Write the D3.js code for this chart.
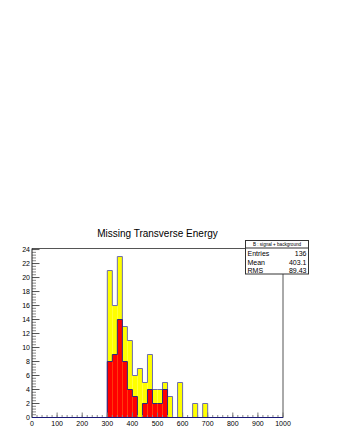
<!DOCTYPE html>
<html>
<head>
<meta charset="utf-8">
<script src="https://cdn.jsdelivr.net/npm/d3@7"></script>
<style>
  body { margin: 0; background: #fff; }
  svg { display: block; font-family: "Liberation Sans", Arial, sans-serif; }
</style>
</head>
<body>
<div id="chart"></div>
<script>
// Histogram: 50 bins of width 20 from 0 to 1000
const binWidth = 20;
const binLow = d3.range(0, 1000, binWidth);

// yellow = signal + background, red = inner component
const totalCounts = [
  0, 0, 0, 0, 0, 0, 0, 0, 0, 0,
  0, 0, 0, 0, 0, 21, 16, 23, 13, 11,
  6, 7, 5, 9, 4, 4, 5, 3, 0, 5,
  0, 0, 2, 0, 2, 0, 0, 0, 0, 0,
  0, 0, 0, 0, 0, 0, 0, 0, 0, 0
];
const redCounts = [
  0, 0, 0, 0, 0, 0, 0, 0, 0, 0,
  0, 0, 0, 0, 0, 8, 9, 14, 8, 4,
  3, 0, 2, 4, 2, 2, 4, 0, 0, 0,
  0, 0, 0, 0, 0, 0, 0, 0, 0, 0,
  0, 0, 0, 0, 0, 0, 0, 0, 0, 0
];

const xTicks = [0, 100, 200, 300, 400, 500, 600, 700, 800, 900, 1000];
const yTicks = [0, 2, 4, 6, 8, 10, 12, 14, 16, 18, 20, 22, 24];
const statLabels = ["Entries", "Mean", "RMS"];
const statValues = ["136", "403.1", "89.43"];

const width = 340, height = 440;
const frame = { left: 32, right: 283, top: 248.5, bottom: 417.5 };

const svg = d3.select("#chart").append("svg")
  .attr("width", width)
  .attr("height", height);

const x = d3.scaleLinear().domain([0, 1000]).range([frame.left, frame.right]);
const y = d3.scaleLinear().domain([0, 24.15]).range([frame.bottom, frame.top]);

// title
svg.append("text")
  .attr("x", 157.5).attr("y", 237)
  .attr("text-anchor", "middle")
  .attr("font-size", "10px")
  .attr("fill", "#000")
  .text("Missing Transverse Energy");

// frame (top and right)
svg.append("path")
  .attr("d", `M${frame.left},${frame.top}H${frame.right}V${frame.bottom}`)
  .attr("fill", "none")
  .attr("stroke", "#555")
  .attr("stroke-width", 1);

// step outline helper
function stepPath(counts) {
  const pts = binLow.map((b, i) => [b, counts[i]]);
  pts.push([1000, counts[counts.length - 1]]);
  return d3.line()
    .x(d => x(d[0]))
    .y(d => y(d[1]))
    .curve(d3.curveStepAfter)(pts);
}

function drawHist(counts, fill, stroke) {
  svg.append("g").selectAll("rect")
    .data(binLow.map((b, i) => ({ b, v: counts[i] })).filter(d => d.v > 0))
    .join("rect")
    .attr("x", d => x(d.b))
    .attr("y", d => y(d.v))
    .attr("width", d => x(d.b + binWidth) - x(d.b))
    .attr("height", d => y(0) - y(d.v))
    .attr("fill", fill);
  svg.append("path")
    .attr("d", stepPath(counts))
    .attr("fill", "none")
    .attr("stroke", stroke)
    .attr("stroke-width", 1);
}

drawHist(totalCounts, "#ffff00", "#6b6bb0");
drawHist(redCounts, "#ff0000", "#2a2a80");

// y axis
const yMinor = d3.range(0, 24.01, 0.4);
const gy = svg.append("g");
gy.selectAll("line.minor")
  .data(yMinor)
  .join("line")
  .attr("x1", frame.left).attr("x2", frame.left + 4)
  .attr("y1", d => y(d)).attr("y2", d => y(d))
  .attr("stroke", "#888").attr("stroke-width", 1);
gy.selectAll("line.major")
  .data(yTicks)
  .join("line")
  .attr("x1", frame.left).attr("x2", frame.left + 7.5)
  .attr("y1", d => y(d)).attr("y2", d => y(d))
  .attr("stroke", "#555").attr("stroke-width", 1);
gy.append("line")
  .attr("x1", frame.left).attr("x2", frame.left)
  .attr("y1", frame.top).attr("y2", frame.bottom)
  .attr("stroke", "#222");
gy.selectAll("text")
  .data(yTicks)
  .join("text")
  .attr("x", frame.left - 2)
  .attr("y", d => y(d) + 2.5)
  .attr("text-anchor", "end")
  .attr("font-size", "7px")
  .attr("fill", "#000")
  .text(d => d);

// x axis
const xMinor = d3.range(0, 1000.1, 20);
const gx = svg.append("g");
gx.selectAll("line.minor")
  .data(xMinor)
  .join("line")
  .attr("x1", d => x(d)).attr("x2", d => x(d))
  .attr("y1", frame.bottom).attr("y2", frame.bottom - 2.5)
  .attr("stroke", "#888");
gx.selectAll("line.major")
  .data(xTicks)
  .join("line")
  .attr("x1", d => x(d)).attr("x2", d => x(d))
  .attr("y1", frame.bottom).attr("y2", frame.bottom - 5)
  .attr("stroke", "#777");
gx.append("line")
  .attr("x1", frame.left).attr("x2", frame.right)
  .attr("y1", frame.bottom).attr("y2", frame.bottom)
  .attr("stroke", "#1a1a78");
gx.selectAll("text")
  .data(xTicks)
  .join("text")
  .attr("x", d => x(d))
  .attr("y", frame.bottom + 8)
  .attr("text-anchor", "middle")
  .attr("font-size", "7px")
  .attr("fill", "#000")
  .text(d => d);

// stats box
const box = { x: 245.5, y: 240.5, w: 63, h: 33.5 };
const gs = svg.append("g");
gs.append("rect")
  .attr("x", box.x).attr("y", box.y)
  .attr("width", box.w).attr("height", box.h)
  .attr("fill", "#fff").attr("stroke", "#333");
gs.append("line")
  .attr("x1", box.x).attr("x2", box.x + box.w)
  .attr("y1", box.y + 7.5).attr("y2", box.y + 7.5)
  .attr("stroke", "#333");
gs.append("text")
  .attr("x", box.x + box.w / 2).attr("y", box.y + 5.5)
  .attr("text-anchor", "middle")
  .attr("font-size", "4.6px")
  .text("B : signal + background");
statLabels.forEach((lab, i) => {
  const ty = box.y + 15.5 + i * 8.5;
  gs.append("text")
    .attr("x", box.x + 2).attr("y", ty)
    .attr("font-size", "7px")
    .text(lab);
  gs.append("text")
    .attr("x", box.x + box.w - 2).attr("y", ty)
    .attr("text-anchor", "end")
    .attr("font-size", "7px")
    .text(statValues[i]);
});
</script>
</body>
</html>
